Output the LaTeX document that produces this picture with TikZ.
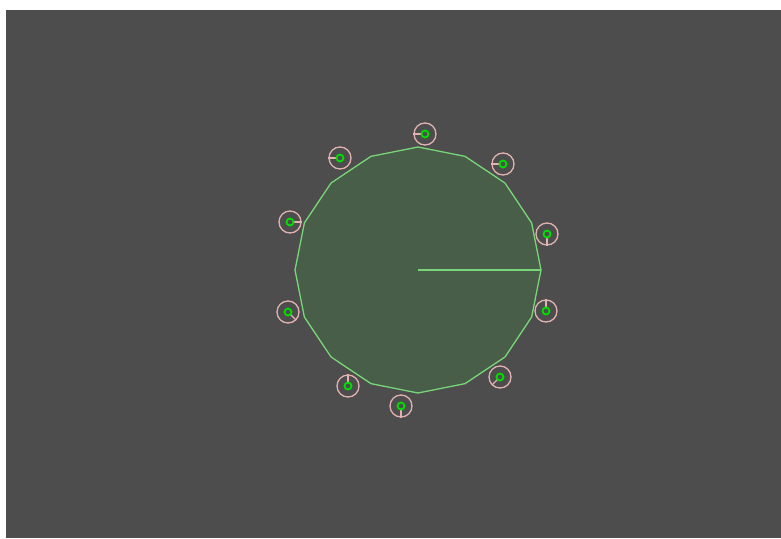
\documentclass[tikz,border=0pt]{standalone}
\usepackage{xcolor}
\usetikzlibrary{shapes.geometric}
\definecolor{bggray}{RGB}{77,77,77}
\definecolor{bodyfill}{RGB}{72,94,72}
\definecolor{bodyline}{RGB}{120,214,120}
\definecolor{wheelpink}{RGB}{226,178,178}
\definecolor{hubgreen}{RGB}{0,222,0}

\begin{document}
\begin{tikzpicture}[
  x=1pt,
  y=-1pt,
  body/.style={shape=regular polygon, regular polygon sides=16, shape border rotate=11.25,
    minimum size=246pt, inner sep=0pt, fill=bodyfill, draw=bodyline, line width=1.3pt},
  wheel/.style={circle, minimum size=22pt, inner sep=0pt, draw=wheelpink, line width=1.3pt},
  hub/.style={circle, minimum size=7pt, inner sep=0pt, draw=hubgreen, line width=1.8pt, fill=bggray}
]
\useasboundingbox (0,0) rectangle (781,538);
\fill[white] (0,0) rectangle (781,538);
\fill[bggray] (6,10) rectangle (781,538);
\node[body] (disc) at (418,270) {};
\coordinate (rim) at (541,270);
\draw[bodyline, line width=1.3pt] (disc.center) -- (rim);
\foreach \i/\x/\y/\a in {
1/425/134/180,2/503/164/180,3/547/234/270,4/546/311/90,5/500/377/225,
6/401/406/270,7/348/386/90,8/288/312/315,9/290/222/0,10/340/158/180} {
  \node[wheel] (w\i) at (\x,\y) {};
  \draw[wheelpink, line width=1.3pt] (w\i.center) -- (w\i.\a);
  \node[hub] (h\i) at (w\i.center) {};
}
\end{tikzpicture}
\end{document}
